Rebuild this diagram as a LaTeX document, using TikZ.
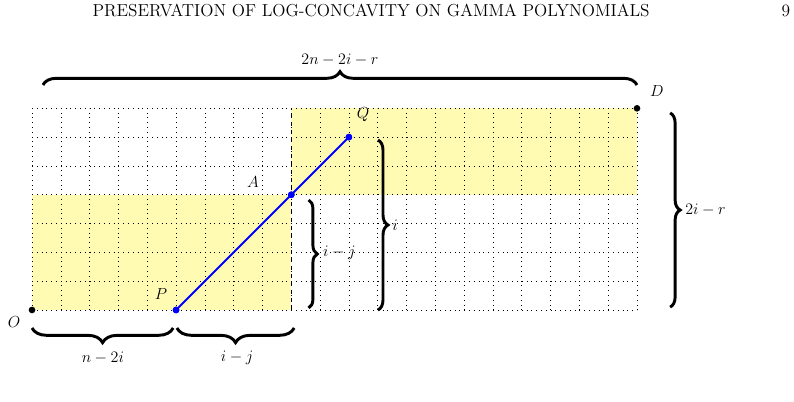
\documentclass[tikz,border=0pt]{standalone}
\usetikzlibrary{decorations.pathreplacing}
\begin{document}
\begin{tikzpicture}[x=21.6pt,y=21.6pt,
  lbl/.style={font=\fontsize{13}{15}\selectfont, inner sep=1pt},
  hbrace/.style={decorate,decoration={brace,amplitude=#1},line width=2.2pt},
  hbracem/.style={decorate,decoration={brace,mirror,amplitude=#1},line width=2.2pt},
  bdot/.style={circle,fill=black,inner sep=0pt,minimum size=5pt},
  bluedot/.style={circle,fill=blue,inner sep=0pt,minimum size=5pt},
  shade/.style={fill=yellow!30},
  path/.style={blue,line width=1.4pt},
  gridline/.style={line width=0.45pt,dash pattern=on 0.45pt off 3.15pt}]
\useasboundingbox (-1.111,-3.193) rectangle (26.45,10.76);
% header
\node[font=\fontsize{13}{15}\selectfont] (hdr) at (11.77,10.38) {PRESERVATION OF LOG-CONCAVITY ON GAMMA POLYNOMIALS};
\node[font=\fontsize{13}{15}\selectfont] (pg) at (26.17,10.38) {9};
% shaded regions
\fill[shade] (0,0) rectangle (9,4);
\fill[shade] (9,4) rectangle (21,7);
% grid
\foreach \x in {0,...,21} {\draw[gridline] (\x,0) -- (\x,7);}
\foreach \y in {0,...,7} {\draw[gridline] (0,\y) -- (21,\y);}
\draw[dashed,line width=0.5pt] (9,0) -- (9,7);
% points
\node[bdot] (O) at (0,0) {};
\node[bluedot] (P) at (5,0) {};
\node[bluedot] (A) at (9,4) {};
\node[bluedot] (Q) at (11,6) {};
\node[bdot] (D) at (21,7) {};
\draw[path] (P.center) -- (A.center) -- (Q.center);
\node[bluedot] at (P) {};
\node[bluedot] at (A) {};
\node[bluedot] at (Q) {};
% point labels
\node[lbl] (lO) at (-0.62,-0.42) {$O$};
\node[lbl] (lP) at (4.48,0.56) {$P$};
\node[lbl] (lA) at (7.67,4.44) {$A$};
\node[lbl] (lQ) at (11.49,6.77) {$Q$};
\node[lbl] (lD) at (21.69,7.6) {$D$};
% braces
\draw[hbrace=10pt] (0.38,7.81) -- (21,7.81);
\node[lbl] (t1) at (10.69,8.68) {$2n-2i-r$};
\draw[hbracem=11pt] (0,-0.625) -- (4.9,-0.625);
\node[lbl] (b1) at (2.46,-1.67) {$n-2i$};
\draw[hbracem=11pt] (5.03,-0.625) -- (9.1,-0.625);
\node[lbl] (b2) at (7.12,-1.67) {$i-j$};
\draw[hbrace=6.5pt] (9.6,3.82) -- (9.6,0.07);
\node[lbl,anchor=west] (r1) at (10.05,2.0) {$i-j$};
\draw[hbrace=7.5pt] (12.01,5.9) -- (12.01,0);
\node[lbl,anchor=west] (r2) at (12.45,2.95) {$i$};
\draw[hbrace=7.5pt] (22.15,6.84) -- (22.15,0.1);
\node[lbl,anchor=west] (r3) at (22.62,3.47) {$2i-r$};
\end{tikzpicture}
\end{document}
